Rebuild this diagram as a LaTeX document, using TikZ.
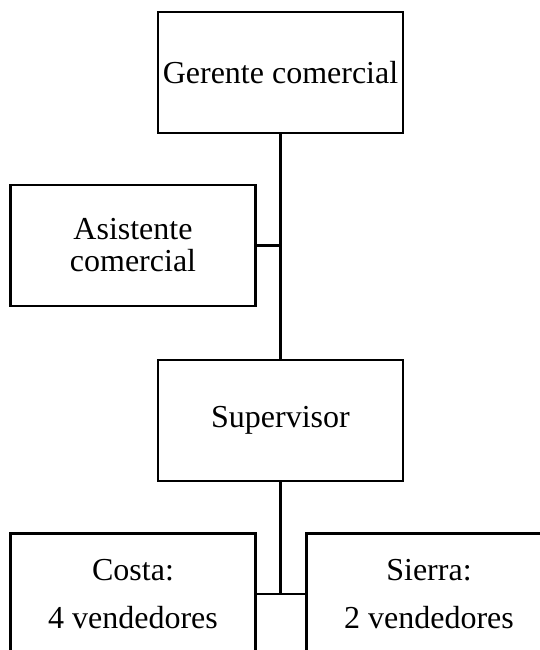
\documentclass[tikz,border=0pt]{standalone}
\usepackage{fontspec}
\setmainfont{Liberation Serif}
\usetikzlibrary{positioning}
\tikzset{
  cargo/.style={draw, line width=1.1pt, minimum width=122.5pt, minimum height=60.5pt, inner sep=0pt, align=center, font=\fontsize{16}{16}\selectfont},
  zona/.style={cargo, font=\fontsize{16}{24}\selectfont},
  linea/.style={line width=1.1pt}
}

\begin{document}
\begin{tikzpicture}[x=0.5pt, y=-0.5pt, node distance=112.5pt]
\useasboundingbox (0,0) rectangle (540,650);
\clip (0,0) rectangle (540,650);
\node[cargo] (gerente) at (280.5,72.5) {Gerente comercial};
\node[cargo] (asistente) at (133,245.5) {Asistente\\comercial};
\node[cargo, below =of gerente] (supervisor) {Supervisor};
\node[zona] (costa) at (133,594) {Costa:\\4 vendedores};
\node[zona] (sierra) at (429,594) {Sierra:\\2 vendedores};
\draw [linea] (gerente) -- (supervisor);
\draw [linea] (asistente.east) -- (asistente.east -| gerente.south);
\draw [linea] (supervisor.south) -- (costa.east -| supervisor.south);
\draw [linea] (costa.east) -- (sierra.west);
\end{tikzpicture}
\end{document}
